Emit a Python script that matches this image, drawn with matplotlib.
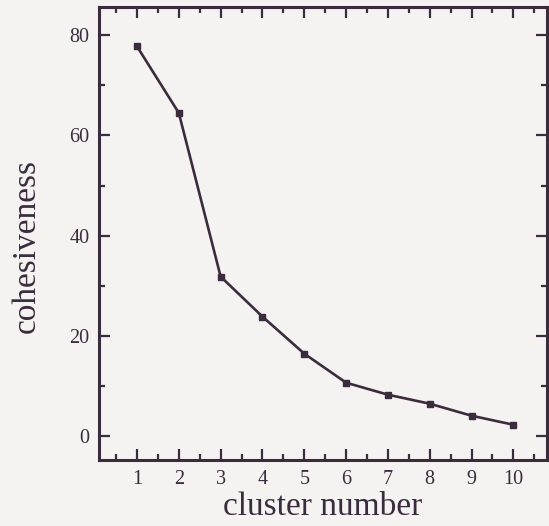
import matplotlib
matplotlib.use("Agg")
import matplotlib.pyplot as plt
from matplotlib.ticker import MultipleLocator

# valeurs
clusters = [1, 2, 3, 4, 5, 6, 7, 8, 9, 10]
cohesiveness = [77.8, 64.5, 31.8, 23.8, 16.4, 10.6, 8.2, 6.4, 4.0, 2.2]

ink = '#3b2c3d'
bg = '#f4f3f1'

plt.rcParams['font.family'] = ['Liberation Serif', 'DejaVu Serif']

fig = plt.figure(figsize=(5.49, 5.26), dpi=100, facecolor=bg)
ax = fig.add_axes([0.181, 0.125, 0.815, 0.861], facecolor=bg)

ax.plot(clusters, cohesiveness, color=ink, linewidth=1.9,
        marker='s', markersize=5, markerfacecolor=ink, markeredgecolor=ink)

ax.set_xlim(0.1, 10.8)
ax.set_ylim(-4.9, 85.6)
ax.xaxis.set_major_locator(MultipleLocator(1))
ax.xaxis.set_minor_locator(MultipleLocator(0.5))
ax.yaxis.set_major_locator(MultipleLocator(20))
ax.yaxis.set_minor_locator(MultipleLocator(10))

ax.tick_params(which='both', direction='in', top=True, right=True,
               color=ink, labelcolor=ink, labelsize=14.5, width=1.6, pad=7)
ax.tick_params(which='major', length=8)
ax.tick_params(which='minor', length=4.5)
for s in ax.spines.values():
    s.set_color(ink)
    s.set_linewidth(2.2)

ax.set_xlabel('cluster number', fontsize=24, color=ink, labelpad=2)
ax.set_ylabel('cohesiveness', fontsize=24, color=ink)
ax.yaxis.set_label_coords(-0.128, 0.473)

plt.savefig('out.png', dpi=100, facecolor=bg)
